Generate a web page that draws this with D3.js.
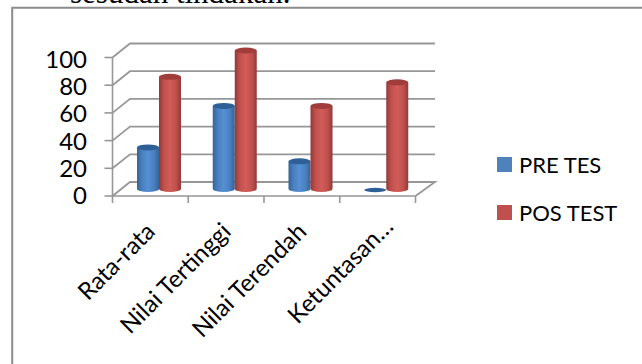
<!DOCTYPE html>
<html>
<head>
<meta charset="utf-8">
<script src="https://cdnjs.cloudflare.com/ajax/libs/d3/7.8.5/d3.min.js"></script>
<style>
html,body{margin:0;padding:0;background:#fff}
svg{display:block}
text{font-family:"Lato","Noto Sans",sans-serif;fill:#000}
</style>
</head>
<body>
<svg id="chart" width="642" height="364"></svg>
<script>
const categories = ["Rata-rata", "Nilai Tertinggi", "Nilai Terendah", "Ketuntasan…"];
const preTes = [30, 60, 20, 0];
const posTest = [81, 100, 60, 77];
const yTicks = [0, 20, 40, 60, 80, 100];
const seriesNames = ["PRE TES", "POS TEST"];
const seriesMain = ["#4a7fbf", "#c0504d"];
const seriesDark = ["#2f5f96", "#a03e3b"];
const seriesEdge = ["#336398", "#8f3a38"];
const seriesLight = ["#5490d4", "#d25c58"];

const svg = d3.select("#chart");
const defs = svg.append("defs");

// Slight softness on the embedded chart graphics
defs.append("filter").attr("id", "soft").append("feGaussianBlur").attr("stdDeviation", 0.4);

// Cylinder shading per series
seriesNames.forEach((_, i) => {
  const g = defs.append("linearGradient").attr("id", "cyl" + i);
  [[0, seriesEdge[i]], [0.22, seriesMain[i]], [0.5, seriesLight[i]], [0.78, seriesMain[i]], [1, seriesEdge[i]]]
    .forEach(([o, c]) => g.append("stop").attr("offset", o).attr("stop-color", c));
});

// Line of body text running behind the frame's top edge
svg.append("text").attr("x", 70).attr("y", 2.7)
  .style("font-family", '"Liberation Serif",serif').style("font-size", "31px")
  .text("sesudah tindakan.");

// Outer frame
svg.append("path").attr("d", "M12.2,364V7.8H642")
  .attr("fill", "none").attr("stroke", "#8c8c8c").attr("stroke-width", 2);

const plot = svg.append("g").attr("filter", "url(#soft)");

const y = d3.scaleLinear().domain([0, 100]).range([196, 57.5]);
const yLabel = d3.scaleLinear().domain([0, 100]).range([204, 68]);
const x = d3.scaleBand().domain(categories).range([112.5, 415.5]);
const depthX = 17.5, depthY = -14;
const grid = "#979797";
const x0 = x.range()[0], x1 = x.range()[1];

// Floor outline and wall gridlines
plot.append("path")
  .attr("d", `M${x0},${y(0)}L${x0 + depthX},${y(0) + depthY}H${x1 + depthX + 2}L${x1},${y(0)}`)
  .attr("fill", "none").attr("stroke", grid).attr("stroke-width", 1.8);
plot.selectAll(".grid").data(yTicks.slice(1)).join("path").attr("class", "grid")
  .attr("d", d => `M${x0},${y(d)}L${x0 + depthX},${y(d) + depthY}H${x1 + depthX + 2}`)
  .attr("fill", "none").attr("stroke", grid).attr("stroke-width", 1.8);

// Axes and tick marks
plot.append("path").attr("d", `M${x0},${y(0)}V${y(100)}M${x0},${y(0)}H${x1}`)
  .attr("fill", "none").attr("stroke", grid).attr("stroke-width", 1.6);
plot.selectAll(".ytick").data(yTicks).join("line").attr("class", "ytick")
  .attr("x1", x0 - 8).attr("x2", x0)
  .attr("y1", d => y(d)).attr("y2", d => y(d)).attr("stroke", grid).attr("stroke-width", 1.6);
plot.selectAll(".xtick").data(categories.map(c => x(c)).concat(x1)).join("line").attr("class", "xtick")
  .attr("x1", d => d).attr("x2", d => d).attr("y1", y(0)).attr("y2", y(0) + 7)
  .attr("stroke", grid).attr("stroke-width", 1.6);

// Cylinders standing on the floor, set back from the front edge
const barW = 22, offsetX = 24.5, ry = 3, floorLift = -7;
function cylinder(g, cx, value, i) {
  const base = y(0) + floorLift;
  const top = y(value) + floorLift;
  const left = cx - barW / 2;
  if (value === 0) {
    g.append("ellipse").attr("cx", cx).attr("cy", base + 1).attr("rx", barW / 2).attr("ry", 2.2)
      .attr("fill", seriesDark[i]);
    return;
  }
  g.append("path")
    .attr("d", `M${left},${top}V${base}A${barW / 2},${ry} 0 0 0 ${left + barW},${base}V${top}Z`)
    .attr("fill", `url(#cyl${i})`);
  g.append("ellipse").attr("cx", cx).attr("cy", top).attr("rx", barW / 2).attr("ry", ry)
    .attr("fill", seriesDark[i]);
}
categories.forEach((c, k) => {
  const g = plot.append("g");
  cylinder(g, x(c) + offsetX + barW / 2, preTes[k], 0);
  cylinder(g, x(c) + offsetX + barW * 1.5, posTest[k], 1);
});

// Value axis labels
svg.selectAll(".ylabel").data(yTicks).join("text").attr("class", "ylabel")
  .attr("x", 87).attr("y", d => yLabel(d)).attr("text-anchor", "end")
  .style("font-size", "24px").text(d => d);

// Category labels, rotated 45 degrees and ending under each band
svg.selectAll(".xlabel").data(categories).join("text").attr("class", "xlabel")
  .attr("transform", (c, i) => `translate(${x(c) + 44 + (i === 3 ? 11 : 0)},${i === 3 ? 228 : 233}) rotate(-45)`)
  .attr("text-anchor", "end").style("font-size", "24px").text(c => c);

// Legend
const legend = svg.selectAll(".legend").data(seriesNames).join("g").attr("class", "legend")
  .attr("transform", (d, i) => `translate(497,${157 + i * 48})`);
legend.append("rect").attr("width", 15).attr("height", 15).attr("fill", (d, i) => i ? "#c0504d" : "#4f81bd");
legend.append("text").attr("x", 22).attr("y", 15.5).style("font-size", "22px").text(d => d);
</script>
</body>
</html>
